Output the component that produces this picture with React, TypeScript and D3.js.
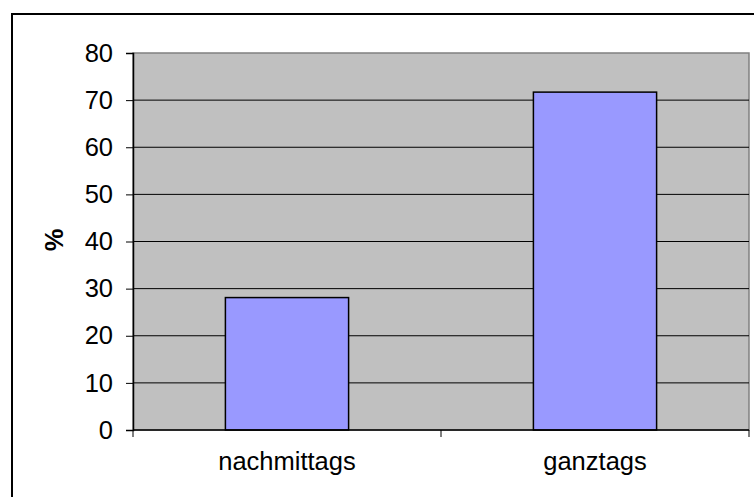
import * as d3 from 'd3';
import { useEffect, useRef } from 'react';

const categories = ['nachmittags', 'ganztags'];
const values = [28.1, 71.7];
const yTicks = [0, 10, 20, 30, 40, 50, 60, 70, 80];
const yLabel = '%';

export default function App() {
  const ref = useRef<SVGSVGElement>(null);

  useEffect(() => {
    const W = 754;
    const H = 497;
    const plot = { left: 133, top: 53, right: 749, bottom: 430 };
    const font = 'Liberation Sans, Arial, sans-serif';
    const fs = 25.5;

    const svg = d3.select(ref.current);
    svg.selectAll('*').remove();

    //outer chart border (cut off on right and bottom)
    svg
      .append('rect')
      .attr('x', 12)
      .attr('y', 14)
      .attr('width', W)
      .attr('height', H)
      .attr('fill', 'white')
      .attr('stroke', 'black')
      .attr('stroke-width', 2);

    const x = d3.scaleBand().domain(categories).range([plot.left, plot.right]).paddingInner(0).paddingOuter(0);
    const y = d3.scaleLinear().domain([0, 80]).range([plot.bottom, plot.top]);

    //plot area background
    svg
      .append('rect')
      .attr('x', plot.left)
      .attr('y', plot.top)
      .attr('width', plot.right - plot.left)
      .attr('height', plot.bottom - plot.top)
      .attr('fill', '#c0c0c0')
      .attr('stroke', '#808080')
      .attr('stroke-width', 1.5);

    //gridlines
    svg
      .append('g')
      .selectAll('line')
      .data(yTicks.filter((t) => t > 0 && t < 80))
      .join('line')
      .attr('x1', plot.left)
      .attr('x2', plot.right)
      .attr('y1', (d) => y(d))
      .attr('y2', (d) => y(d))
      .attr('stroke', 'black')
      .attr('stroke-width', 1);

    //bars, excel gap width 150%
    const bw = x.bandwidth() / 2.5;
    svg
      .append('g')
      .selectAll('rect')
      .data(categories)
      .join('rect')
      .attr('x', (d) => (x(d) ?? 0) + (x.bandwidth() - bw) / 2)
      .attr('y', (_d, i) => y(values[i]))
      .attr('width', bw)
      .attr('height', (_d, i) => y(0) - y(values[i]))
      .attr('fill', '#9999ff')
      .attr('stroke', 'black')
      .attr('stroke-width', 1.5);

    //y axis
    const yAxis = svg
      .append('g')
      .attr('transform', `translate(${plot.left},0)`)
      .call(d3.axisLeft(y).tickValues(yTicks).tickSize(7).tickPadding(13));
    yAxis.select('.domain').attr('stroke', 'black').attr('stroke-width', 1.5);
    yAxis.selectAll('.tick line').attr('stroke', 'black');
    yAxis
      .selectAll('.tick text')
      .attr('font-family', font)
      .attr('font-size', fs)
      .attr('fill', 'black');

    //x axis
    const xAxis = svg
      .append('g')
      .attr('transform', `translate(0,${plot.bottom})`)
      .call(d3.axisBottom(x).tickSize(0).tickPadding(22));
    xAxis.select('.domain').remove();
    xAxis
      .selectAll('.tick text')
      .attr('font-family', font)
      .attr('font-size', fs)
      .attr('fill', 'black');
    xAxis
      .selectAll('line.sep')
      .data([...categories.map((c) => x(c) ?? 0), plot.right])
      .join('line')
      .attr('class', 'sep')
      .attr('x1', (d) => d)
      .attr('x2', (d) => d)
      .attr('y1', 0)
      .attr('y2', 7)
      .attr('stroke', 'black');
    xAxis
      .append('line')
      .attr('x1', plot.left)
      .attr('x2', plot.right)
      .attr('y1', 0)
      .attr('y2', 0)
      .attr('stroke', 'black')
      .attr('stroke-width', 1.5);

    //y axis title
    svg
      .append('text')
      .attr('transform', `translate(63,240) rotate(-90)`)
      .attr('text-anchor', 'middle')
      .attr('font-family', font)
      .attr('font-size', fs)
      .attr('font-weight', 'bold')
      .text(yLabel);
  }, []);

  return (
    <svg
      ref={ref}
      width={754}
      height={497}
      style={{ position: 'absolute', left: 0, top: 0, background: 'white' }}
    />
  );
}
